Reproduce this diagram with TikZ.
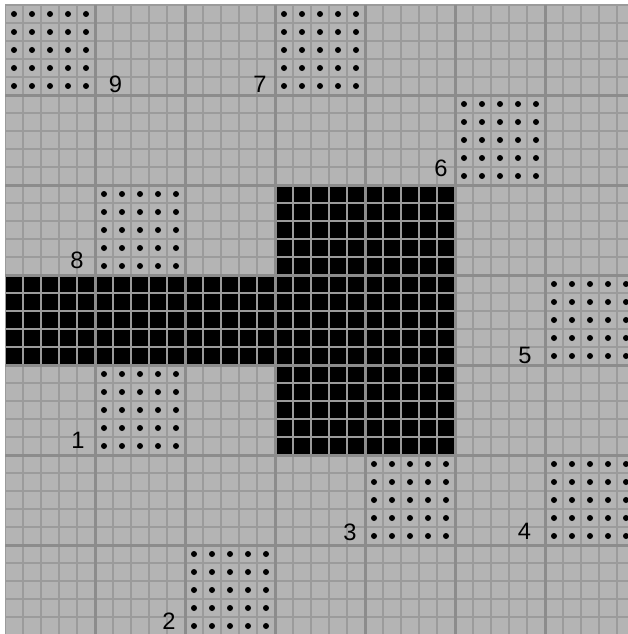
\documentclass[tikz,border=0pt]{standalone}
\usepackage{fontspec}
\setmainfont{Liberation Sans}
\definecolor{bggray}{RGB}{180,180,180}
\definecolor{finegray}{RGB}{155,155,155}
\definecolor{biggray}{RGB}{140,140,140}
\tikzset{
  fineline/.style={draw=finegray, line width=1.4pt},
  bigline/.style={draw=biggray, line width=3pt},
  dotmark/.style={fill=black},
  lbl/.style={inner sep=0pt, font=\fontsize{23.7}{28}\selectfont, text=black}
}
\begin{document}
\begin{tikzpicture}[x=1pt,y=-1pt]
\useasboundingbox (0,0) rectangle (628,634);
\fill[white] (0,0) rectangle (628,634);
\begin{scope}
\clip (5,5) rectangle (628,634);
\fill[bggray] (5,5) rectangle (628,634);
% black cells
\foreach \c/\r in {3/2,4/2,0/3,1/3,2/3,3/3,4/3,3/4,4/4}
  \fill[black] ({5+90*\c},{5+90*\r}) rectangle ++(90,90);
% fine grid
\foreach \i in {0,...,35} {
  \draw[fineline] ({5+18*\i},5) -- ({5+18*\i},640);
  \draw[fineline] (5,{5+18*\i}) -- (640,{5+18*\i});
}
% big grid
\foreach \i in {1,...,7} {
  \draw[bigline] ({5+90*\i},5) -- ({5+90*\i},640);
  \draw[bigline] (5,{5+90*\i}) -- (640,{5+90*\i});
}
% dot blocks
\foreach \c/\r in {0/0,3/0,5/1,1/2,6/3,1/4,4/5,6/5,2/6}
  \foreach \i in {0,...,4}
    \foreach \j in {0,...,4}
      \fill[dotmark] ({5+90*\c+9+18*\i},{5+90*\r+9+18*\j}) circle (3);
\end{scope}
% labels
\node[lbl] (l9) at (115.5,84.5) {9};
\node[lbl] (l7) at (260,84.5) {7};
\node[lbl] (l6) at (441,168) {6};
\node[lbl] (l8) at (77,260) {8};
\node[lbl] (l1) at (78,440) {1};
\node[lbl] (l5) at (525,355) {5};
\node[lbl] (l3) at (350,532) {3};
\node[lbl] (l4) at (524.5,531) {4};
\node[lbl] (l2) at (169,621.5) {2};
\end{tikzpicture}
\end{document}
